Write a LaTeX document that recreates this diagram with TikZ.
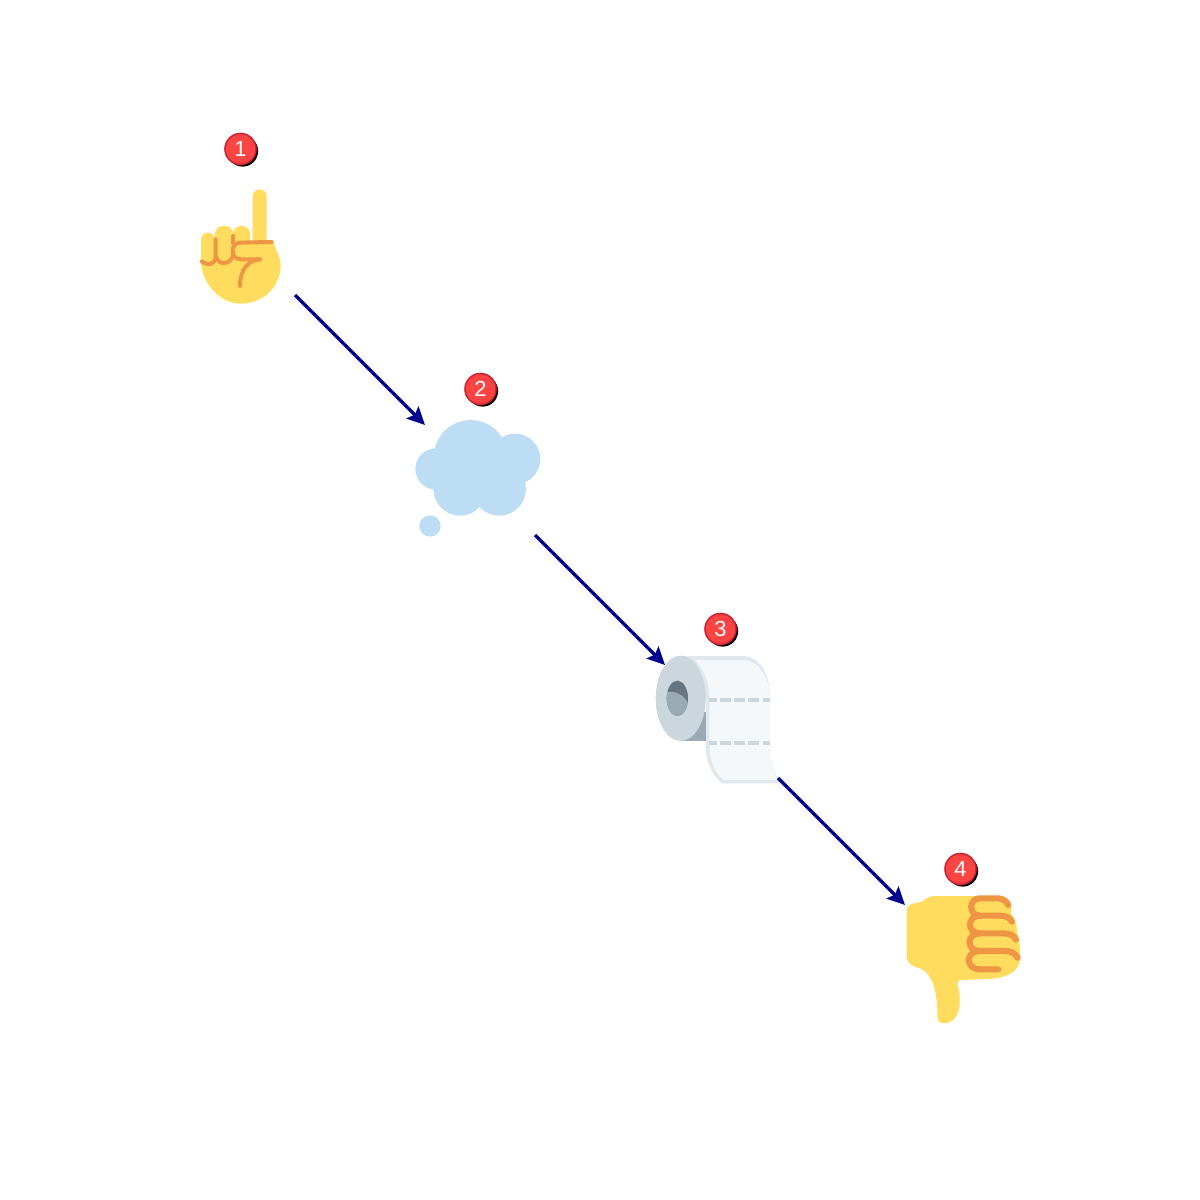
\documentclass[tikz,border=0pt]{standalone}
\usepackage{fontspec}
\setmainfont{Liberation Sans}
\usetikzlibrary{arrows.meta,shadows}

\definecolor{skin}{HTML}{FFDC5D}
\definecolor{crease}{HTML}{EF9645}
\definecolor{puff}{HTML}{BDDDF4}
\definecolor{rollside}{HTML}{CCD6DD}
\definecolor{rolledge}{HTML}{E1E8ED}
\definecolor{rollpaper}{HTML}{F5F8FA}
\definecolor{rollshade}{HTML}{99AAB5}
\definecolor{rollhole}{HTML}{66757F}
\definecolor{badgered}{HTML}{FF4444}
\definecolor{badgerim}{HTML}{CC2233}
\definecolor{flowblue}{HTML}{00008F}

\tikzset{
  emoji/.style={minimum size=1.1cm, inner sep=0pt, outer sep=0pt},
  badge/.style={circle, fill=badgered, draw=badgerim, line width=0.45pt,
    minimum size=0.31cm, inner sep=0pt, text=white,
    font=\fontsize{6.2}{7}\selectfont,
    general shadow={shadow xshift=0.6pt, shadow yshift=-0.6pt, fill=black}},
  flow/.style={draw=flowblue, line width=0.95pt,
    -{Stealth[length=5pt,width=4.8pt,inset=0.9pt]}},
  creaseline/.style={draw=crease, line cap=round, line join=round},
  iconat/.style 2 args={shift={(#1.center)}, shift={(#2)}, scale=0.3333}
}

\begin{document}
\begin{tikzpicture}[x=0.01cm, y=-0.01cm]

\newcommand\X{240}

\useasboundingbox (0,0) rectangle (1200,1200); %% margins

\node[emoji] (up)    at (1*\X, 1*\X) {};
\node[emoji] (think) at (2*\X, 2*\X) {};
\node[emoji] (roll)  at (3*\X, 3*\X) {};
\node[emoji] (down)  at (4*\X, 4*\X) {};

%% pointing finger
\begin{scope}[iconat={up}{-60,-120}]
\fill[skin, rounded corners=1.95pt] (218,208) rectangle (260,400);
\fill[skin, rounded corners=2.2pt] (160,318) rectangle (210,420);
\fill[skin, rounded corners=2.2pt] (105,318) rectangle (160,420);
\fill[skin, rounded corners=1.95pt] (63,338) rectangle (105,440);
\fill[skin] (63,420) .. controls (63,490) and (120,551) .. (182,551)
  .. controls (250,551) and (302,500) .. (302,435)
  .. controls (302,415) and (290,395) .. (280,365) -- (160,360) -- (63,400) -- cycle;
\draw[creaseline, line width=1.15pt] (275,366) -- (180,368)
  .. controls (150,370) and (150,418) .. (182,418) -- (240,418);
\draw[creaseline, line width=1.15pt] (240,418) .. controls (205,420) and (180,450) .. (180,498);
\draw[creaseline, line width=1.15pt] (65,424) .. controls (85,438) and (105,435) .. (107,410) -- (107,358);
\draw[creaseline, line width=1.15pt] (107,410) .. controls (118,438) and (150,435) .. (160,405);
\draw[creaseline, line width=1.15pt] (160,348) -- (160,370);
\end{scope}

%% thought cloud
\begin{scope}[iconat={think}{-80,-115}]
\fill[puff] (212,275) circle (110);
\fill[puff] (108,312) circle (62);
\fill[puff] (345,282) circle (76);
\fill[puff] (180,372) circle (80);
\fill[puff] (298,372) circle (80);
\fill[puff] (90,483) circle (32);
\end{scope}

%% paper roll
\begin{scope}[iconat={roll}{-80,-115}]
\fill[rolledge] (122,153) -- (310,153) .. controls (355,153) and (390,200) .. (390,280)
  -- (390,430) .. controls (392,475) and (405,510) .. (422,535) -- (245,535)
  .. controls (215,510) and (197,470) .. (197,420) -- (197,280) -- cycle;
\fill[rollpaper] (165,165) -- (310,165) .. controls (350,165) and (390,210) .. (390,280)
  -- (390,430) .. controls (392,470) and (400,500) .. (412,525) -- (250,525)
  .. controls (222,500) and (208,460) .. (208,420) -- (208,280)
  .. controls (208,230) and (190,190) .. (165,165) -- cycle;
\fill[rollshade] (125,320) rectangle (197,408);
\fill[rollside] (122,280) ellipse (75 and 128);
\fill[rollhole] (112,280) ellipse (32 and 53);
\begin{scope}
\clip (112,280) ellipse (32 and 53);
\fill[rollshade] (78,262) .. controls (105,255) and (135,270) .. (146,300)
  -- (146,340) -- (78,340) -- cycle;
\end{scope}
\foreach \yy in {286,413} {
  \draw[rollside, line width=1.2pt] (208,\yy) -- (230,\yy) (240,\yy) -- (272,\yy)
    (283,\yy) -- (315,\yy) (325,\yy) -- (357,\yy) (368,\yy) -- (390,\yy);
}
\end{scope}

%% thumb down
\begin{scope}[iconat={down}{-80,-115}]
\fill[skin] (80,200) .. controls (80,180) and (95,174) .. (115,173)
  .. controls (135,170) and (140,153) .. (165,153) -- (360,153)
  .. controls (385,153) and (398,180) .. (393,205)
  .. controls (405,220) and (412,245) .. (412,265)
  .. controls (420,285) and (420,320) .. (420,340)
  .. controls (420,385) and (370,400) .. (320,402) -- (243,405)
  .. controls (232,405) and (232,415) .. (234,425)
  .. controls (245,470) and (242,533) .. (192,535)
  .. controls (175,535) and (172,525) .. (172,510)
  .. controls (172,460) and (165,395) .. (125,372)
  .. controls (95,362) and (80,358) .. (80,330) -- cycle;
\draw[creaseline, line width=1.75pt] (385,180) .. controls (378,165) and (365,160) .. (350,160)
  -- (300,160) .. controls (265,160) and (265,212) .. (300,212) -- (360,212)
  .. controls (378,212) and (390,218) .. (396,230);
\draw[creaseline, line width=1.75pt] (300,212) .. controls (260,212) and (260,265) .. (300,265)
  -- (370,265) .. controls (390,265) and (402,272) .. (408,284);
\draw[creaseline, line width=1.75pt] (300,265) .. controls (258,265) and (258,318) .. (300,318)
  -- (375,318) .. controls (395,318) and (406,326) .. (413,338);
\draw[creaseline, line width=1.75pt] (300,318) .. controls (255,318) and (255,373) .. (300,373)
  -- (355,373);
\end{scope}

\node[badge] (badgea) at (240.5,149) {1};
\node[badge] (badgeb) at (480.5,389) {2};
\node[badge] (badgec) at (720.5,629) {3};
\node[badge] (badged) at (960.5,869) {4};

\draw[flow] (up.south east) -- (think.north west);
\draw[flow] (think.south east) -- (roll.north west);
\draw[flow, shorten <=1.2pt] (roll.south east) -- (down.north west);

\end{tikzpicture}
\end{document}
